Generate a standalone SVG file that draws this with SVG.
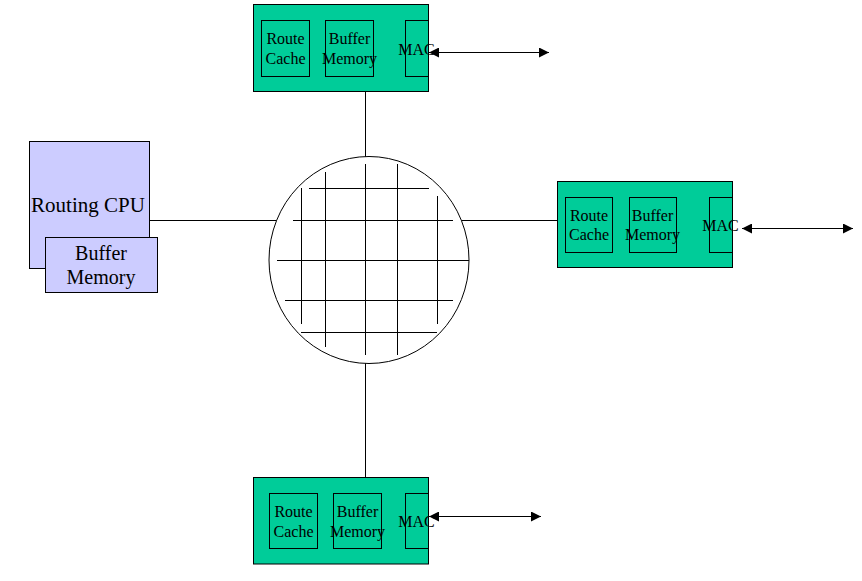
<svg xmlns="http://www.w3.org/2000/svg" width="862" height="581" viewBox="0 0 862 581">
<style>
  .card { fill: #00CC99; stroke: #000; stroke-width: 1; }
  .inner { fill: none; stroke: #000; stroke-width: 1; }
  .cpu { fill: #CCCCFF; stroke: #000; stroke-width: 1; }
  .ln { stroke: #000; stroke-width: 1; fill: none; }
  .t { font-family: "Liberation Serif", "Times New Roman", serif; font-size: 16px; fill: #000; text-anchor: middle; }
  .tb { font-family: "Liberation Serif", "Times New Roman", serif; font-size: 20px; fill: #000; text-anchor: middle; }
</style>
<defs>
  <marker id="ah" viewBox="0 0 10 10" refX="10" refY="5" markerWidth="11" markerHeight="10" markerUnits="userSpaceOnUse" orient="auto-start-reverse">
    <path d="M0,0 L10,5 L0,10 z" fill="#000"/>
  </marker>
</defs>
<rect width="862" height="581" fill="#fff"/>

<g id="connectors">
  <line class="ln" x1="150" y1="220.5" x2="277" y2="220.5"/>
  <line class="ln" x1="461" y1="220.5" x2="557" y2="220.5"/>
  <line class="ln" x1="365.5" y1="92" x2="365.5" y2="157"/>
  <line class="ln" x1="365.5" y1="363" x2="365.5" y2="477"/>
  <line class="ln" x1="429" y1="52.5" x2="549" y2="52.5" marker-start="url(#ah)" marker-end="url(#ah)"/>
  <line class="ln" x1="742" y1="228.5" x2="853" y2="228.5" marker-start="url(#ah)" marker-end="url(#ah)"/>
  <line class="ln" x1="429" y1="516.5" x2="541" y2="516.5" marker-start="url(#ah)" marker-end="url(#ah)"/>
</g>

<g id="switch-fabric">
  <ellipse cx="369" cy="260" rx="100" ry="103.5" fill="#fff" stroke="#000" stroke-width="1"/>
  <line class="ln" x1="309" y1="188.5" x2="429" y2="188.5"/>
  <line class="ln" x1="293" y1="220.5" x2="453" y2="220.5"/>
  <line class="ln" x1="277" y1="260.5" x2="469" y2="260.5"/>
  <line class="ln" x1="285" y1="300.5" x2="453" y2="300.5"/>
  <line class="ln" x1="301" y1="332.5" x2="437" y2="332.5"/>
  <line class="ln" x1="301.5" y1="188" x2="301.5" y2="324"/>
  <line class="ln" x1="325.5" y1="172" x2="325.5" y2="347"/>
  <line class="ln" x1="365.5" y1="164" x2="365.5" y2="355"/>
  <line class="ln" x1="397.5" y1="164" x2="397.5" y2="355"/>
  <line class="ln" x1="437.5" y1="196" x2="437.5" y2="324"/>
</g>

<g id="routing-cpu">
  <rect class="cpu" x="29.5" y="141.5" width="120" height="127"/>
  <text class="tb" x="88" y="212" style="font-size:21px">Routing CPU</text>
</g>
<g id="cpu-buffer-memory">
  <rect class="cpu" x="45.5" y="237.5" width="112" height="55"/>
  <text class="tb" x="101" y="260">Buffer</text>
  <text class="tb" x="101" y="284">Memory</text>
</g>

<g id="linecard-top">
  <rect class="card" x="253.5" y="4.5" width="175" height="87"/>
  <rect class="inner" x="261.5" y="20.5" width="48" height="56"/>
  <text class="t" x="285.5" y="44">Route</text>
  <text class="t" x="285.5" y="64">Cache</text>
  <rect class="inner" x="325.5" y="20.5" width="48" height="56"/>
  <text class="t" x="349.5" y="44">Buffer</text>
  <text class="t" x="349.5" y="64">Memory</text>
  <rect class="inner" x="405.5" y="20.5" width="23" height="56"/>
  <text class="t" x="416.5" y="55">MAC</text>
</g>

<g id="linecard-right">
  <rect class="card" x="557.5" y="181.5" width="175" height="86"/>
  <rect class="inner" x="565.5" y="197.5" width="47" height="55"/>
  <text class="t" x="589" y="221">Route</text>
  <text class="t" x="589" y="240">Cache</text>
  <rect class="inner" x="629.5" y="197.5" width="47" height="55"/>
  <text class="t" x="652.5" y="221">Buffer</text>
  <text class="t" x="652.5" y="240">Memory</text>
  <rect class="inner" x="709.5" y="197.5" width="23" height="55"/>
  <text class="t" x="720.5" y="231">MAC</text>
</g>

<g id="linecard-bottom">
  <rect class="card" x="253.5" y="477.5" width="175" height="86.5"/>
  <rect class="inner" x="269.5" y="493.5" width="48" height="55"/>
  <text class="t" x="293.5" y="517">Route</text>
  <text class="t" x="293.5" y="537">Cache</text>
  <rect class="inner" x="333.5" y="493.5" width="48" height="55"/>
  <text class="t" x="357.5" y="517">Buffer</text>
  <text class="t" x="357.5" y="537">Memory</text>
  <rect class="inner" x="405.5" y="493.5" width="23" height="55"/>
  <text class="t" x="416.5" y="527">MAC</text>
</g>
</svg>
